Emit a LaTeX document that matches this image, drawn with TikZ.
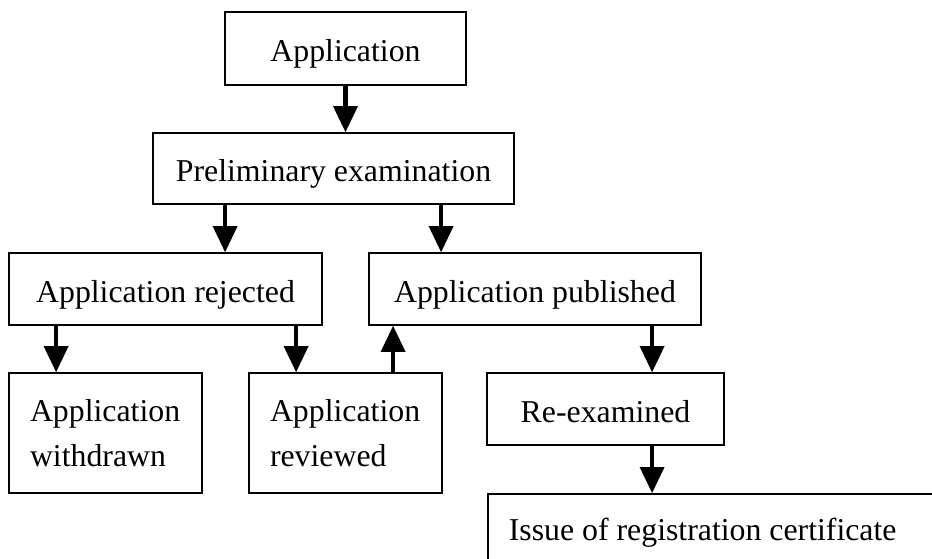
\documentclass[tikz,border=0pt]{standalone}
\usepackage{fontspec}
\setmainfont{Liberation Serif}
\usetikzlibrary{arrows.meta,calc}

\tikzset{
  box/.style={draw=black, line width=1.8pt, rectangle, inner sep=0pt,
    font=\fontsize{31.8}{45}\selectfont, text height=26pt, text depth=0pt},
  twoline/.style={box, align=left, text width=151pt, text height=22pt,
    text depth=46pt, minimum width=193pt, minimum height=120pt},
  arr/.style={line width=4.5pt,
    -{Triangle[width=25pt,length=26pt,line width=0pt]}, shorten >=0pt}
}

\begin{document}
\begin{tikzpicture}[x=1pt,y=-1pt]
  \useasboundingbox (0,0) rectangle (932,558);
  \clip (0,0) rectangle (932,558);
  \fill[white] (0,0) rectangle (932,558);

  % process steps
  \node[box, minimum width=241pt, minimum height=73pt] (app) at (345.5,48.5) {Application};
  \node[box, minimum width=361pt, minimum height=71pt] (prel) at (333.5,168.5) {Preliminary examination};
  \node[box, minimum width=313pt, minimum height=72pt] (rej) at (165.5,289) {Application rejected};
  \node[box, minimum width=332pt, minimum height=72pt] (pub) at (535,289) {Application published};
  \node[twoline] (wd) at (105.5,433) {Application\\withdrawn};
  \node[twoline] (rev) at (345.5,433) {Application\\reviewed};
  \node[box, minimum width=237pt, minimum height=72pt] (rex) at (605.5,409) {Re-examined};
  \node[box, anchor=north west, inner xsep=21pt, inner ysep=21pt, text depth=30pt]
    (iss) at (487,493) {\makebox[480pt][l]{Issue of registration certificate}};

  % connector start points
  \coordinate (pl) at ($(prel.south west)+(73,0)$);
  \coordinate (pr) at ($(prel.south west)+(289,0)$);
  \coordinate (rl) at ($(rej.south west)+(48,0)$);
  \coordinate (rr) at ($(rej.south west)+(288,0)$);
  \coordinate (vu) at ($(rev.north west)+(145,0)$);
  \coordinate (pd) at ($(pub.south west)+(284,0)$);

  % flow
  \draw[arr] (app.south) -- (app.south |- prel.north);
  \draw[arr] (pl) -- (pl |- rej.north);
  \draw[arr] (pr) -- (pr |- pub.north);
  \draw[arr] (rl) -- (rl |- wd.north);
  \draw[arr] (rr) -- (rr |- rev.north);
  \draw[arr] (vu) -- (vu |- pub.south);
  \draw[arr] (pd) -- (pd |- rex.north);
  \draw[arr] (pd |- rex.south) -- (pd |- iss.north);
\end{tikzpicture}
\end{document}
